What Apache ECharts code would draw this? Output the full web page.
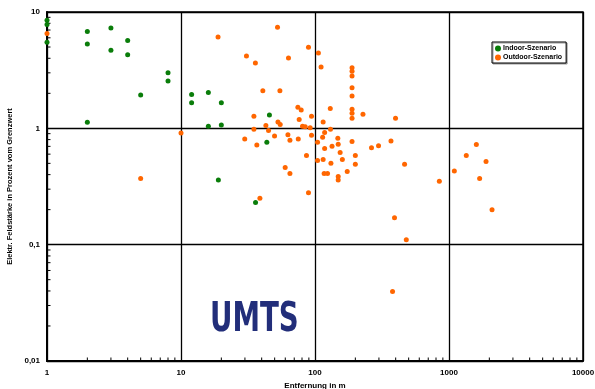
<!DOCTYPE html>
<html>
<head>
<meta charset="utf-8">
<script src="https://cdn.jsdelivr.net/npm/echarts@6/dist/echarts.min.js"></script>
<style>
  html, body { margin: 0; padding: 0; background: #fff; }
  #chart { width: 595px; height: 389px; }
</style>
</head>
<body>
<div id="chart"></div>
<script>
// Entfernung in m / Feldstärke in % vom Grenzwert
const indoorData = [
  [1, 8.5], [1, 7.8], [1, 5.5], [2, 6.8], [2, 5.3], [3, 7.3], [3, 4.7],
  [4, 5.7], [4, 4.3], [8, 3.0], [8, 2.55], [5, 1.93], [2, 1.13],
  [12, 1.95], [12, 1.66], [16, 2.03], [20, 1.66], [16, 1.04], [20, 1.07],
  [45.7, 1.30], [43.7, 0.76], [19, 0.36], [36, 0.23]
]

const outdoorData = [
  [1, 6.55], [10, 0.91], [5, 0.37],
  [18.9, 6.1], [52.5, 7.4], [30.8, 4.18], [35.9, 3.64], [63.4, 4.02], [89.4, 4.97], [106, 4.44], [111, 3.36],
  [189, 3.31], [189, 3.1], [189, 2.82], [189, 2.23], [189, 1.90], [189, 1.46], [189, 1.35], [189, 1.22],
  [228, 1.32], [40.8, 2.10], [54.7, 2.10], [130, 1.48], [399, 1.22],
  [35, 1.27], [74.5, 1.52], [78.9, 1.44], [52.9, 1.135], [55, 1.08], [76.2, 1.19], [94.2, 1.27],
  [43, 1.06], [45, 0.96], [35, 0.98], [80.7, 1.04], [84.5, 1.03], [92, 1.01],
  [29.9, 0.81], [36.8, 0.72], [49.9, 0.86], [62.8, 0.88], [65, 0.79], [75, 0.81], [94.2, 0.87],
  [104.5, 0.76], [86.4, 0.583], [104.5, 0.53], [59.9, 0.46], [65, 0.41],
  [89.4, 0.28], [38.8, 0.25],
  [115, 1.135], [130.5, 0.98], [118, 0.92], [114, 0.84], [148, 0.82], [149, 0.73], [134, 0.70],
  [118, 0.67], [189, 0.77], [369, 0.78], [264, 0.68], [298, 0.71], [154, 0.62], [200, 0.583],
  [115, 0.54], [160, 0.54], [131.5, 0.50], [200, 0.49], [466, 0.49], [174, 0.425],
  [117, 0.41], [124, 0.41], [149, 0.385], [149, 0.36],
  [847, 0.35], [392, 0.17], [480, 0.11], [1096, 0.43], [1346, 0.583], [1600, 0.725],
  [1890, 0.518], [1693, 0.37], [2095, 0.20], [379, 0.0395]
]

const xTickValues = [1, 10, 100, 1000, 10000]
const xTickLabels = ['1', '10', '100', '1000', '10000']
const yTickValues = [0.01, 0.1, 1, 10]
const yTickLabels = ['0,01', '0,1', '1', '10']

// minor log ticks 2..9 per decade
const xMinorTicks = [2, 3, 4, 5, 6, 7, 8, 9, 20, 30, 40, 50, 60, 70, 80, 90,
  200, 300, 400, 500, 600, 700, 800, 900, 2000, 3000, 4000, 5000, 6000, 7000, 8000, 9000]
const yMinorTicks = [0.02, 0.03, 0.04, 0.05, 0.06, 0.07, 0.08, 0.09,
  0.2, 0.3, 0.4, 0.5, 0.6, 0.7, 0.8, 0.9, 2, 3, 4, 5, 6, 7, 8, 9]

function tickLabel(values, labels) {
  return v => {
    const i = values.findIndex(t => Math.abs(Math.log10(t) - Math.log10(v)) < 1e-6)
    return i >= 0 ? labels[i] : ''
  }
}

const font = '"Liberation Sans", Arial, sans-serif'
const chart = echarts.init(document.getElementById('chart'), null, { renderer: 'canvas' })

chart.setOption({
  backgroundColor: '#fff',
  animation: false,
  grid: {
    left: 47, right: 12, top: 12, bottom: 28,
    containLabel: false, outerBoundsMode: 'none',
    show: true, borderColor: '#000', borderWidth: 1.5,
  },
  legend: {
    orient: 'vertical', left: 492, top: 42,
    itemWidth: 6, itemHeight: 6, itemGap: 2,
    padding: [3, 4, 2, 3],
    icon: 'circle',
    backgroundColor: '#fff',
    borderColor: '#000', borderWidth: 1, borderRadius: 0,
    shadowColor: '#999', shadowOffsetX: 1, shadowOffsetY: 1, shadowBlur: 0,
    textStyle: { fontSize: 7, fontWeight: 'bold', fontFamily: font, color: '#000', padding: [0, 0, 0, -3] },
    data: ['Indoor-Szenario', 'Outdoor-Szenario'],
  },
  xAxis: {
    type: 'log', logBase: 10, min: 1, max: 10000,
    name: 'Entfernung in m', nameLocation: 'middle', nameGap: 18,
    nameTextStyle: { fontSize: 8, fontWeight: 'bold', fontFamily: font, color: '#000' },
    axisLine: { lineStyle: { color: '#000', width: 2 } },
    axisTick: { show: false },
    axisLabel: { margin: 8, fontSize: 8, fontWeight: 'bold', fontFamily: font, color: '#000',
      formatter: tickLabel(xTickValues, xTickLabels) },
    splitLine: { show: true, lineStyle: { color: '#000', width: 1.3 } },
  },
  yAxis: {
    type: 'log', logBase: 10, min: 0.01, max: 10,
    name: 'Elektr. Feldstärke in Prozent vom Grenzwert', nameLocation: 'middle', nameGap: 25,
    nameTextStyle: { fontSize: 7.5, fontWeight: 'bold', fontFamily: font, color: '#000' },
    axisLine: { lineStyle: { color: '#000', width: 2 } },
    axisTick: { show: false },
    axisLabel: { margin: 7, fontSize: 8, fontWeight: 'bold', fontFamily: font, color: '#000',
      formatter: tickLabel(yTickValues, yTickLabels) },
    splitLine: { show: true, lineStyle: { color: '#000', width: 1.3 } },
  },
  graphic: [{
    type: 'text', left: 210, top: 300, scaleX: 0.75,
    style: { text: 'UMTS', fill: '#222e7a',
      font: 'bold 41px "Liberation Sans Narrow", "DejaVu Sans Condensed", sans-serif' },
  }],
  series: [
    {
      type: 'custom', silent: true, z: 1,
      data: yMinorTicks.map(v => [1, v]),
      renderItem: (params, api) => {
        const p = api.coord([api.value(0), api.value(1)])
        return { type: 'line', shape: { x1: p[0], y1: p[1], x2: p[0] + 3.5, y2: p[1] },
          style: { stroke: '#000', lineWidth: 1 } }
      },
    },
    {
      type: 'custom', silent: true, z: 1,
      data: xMinorTicks.map(v => [v, 0.01]),
      renderItem: (params, api) => {
        const p = api.coord([api.value(0), api.value(1)])
        return { type: 'line', shape: { x1: p[0], y1: p[1], x2: p[0], y2: p[1] - 3.5 },
          style: { stroke: '#000', lineWidth: 1 } }
      },
    },
    {
      name: 'Indoor-Szenario', type: 'scatter', data: indoorData,
      symbol: 'circle', symbolSize: 5, z: 3,
      itemStyle: { color: '#0a7d0a', opacity: 1 },
    },
    {
      name: 'Outdoor-Szenario', type: 'scatter', data: outdoorData,
      symbol: 'circle', symbolSize: 5, z: 4,
      itemStyle: { color: '#ff6600', opacity: 1 },
    },
  ],
})
</script>
</body>
</html>
